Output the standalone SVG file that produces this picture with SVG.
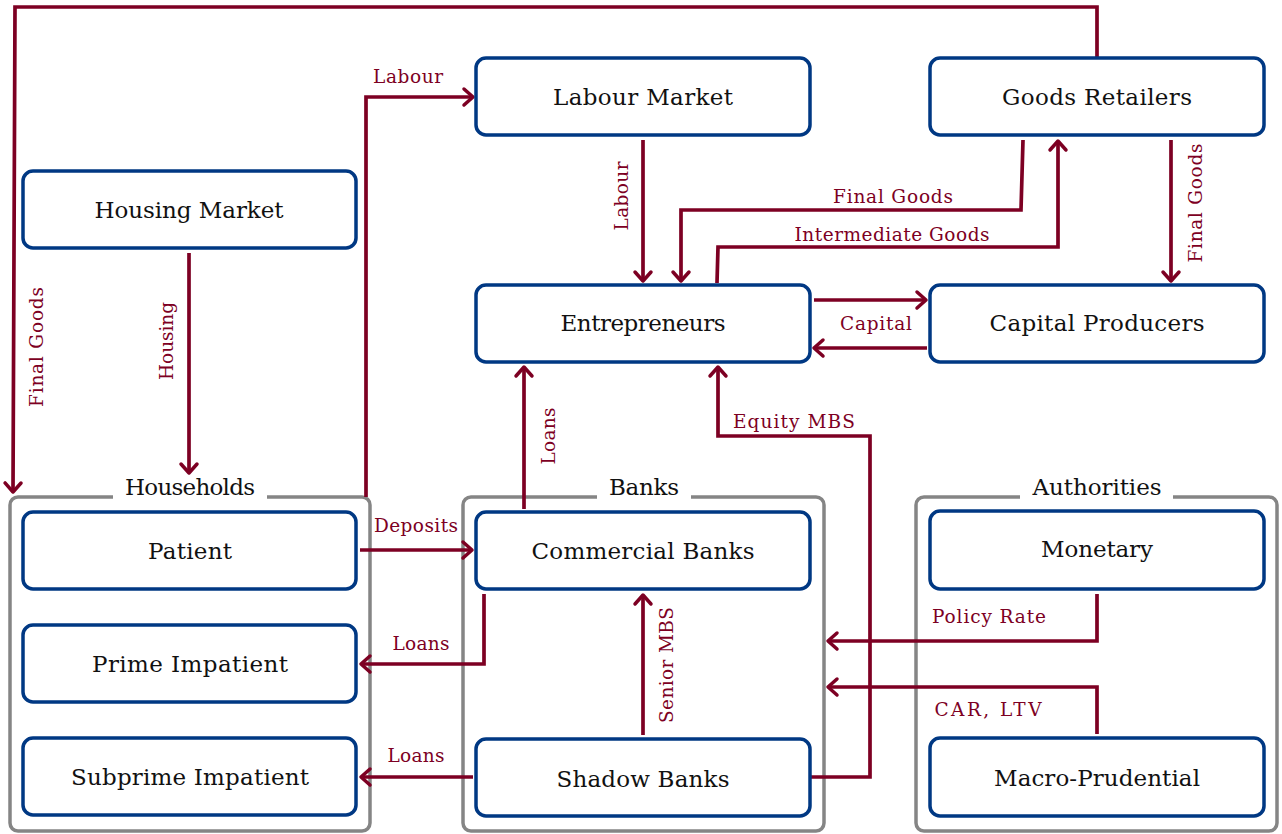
<svg xmlns="http://www.w3.org/2000/svg" width="1282" height="834" viewBox="0 0 1282 834">
<defs>
<style>
.node rect{fill:#fff;stroke:#003883;stroke-width:3.5}
.grp rect.box{fill:none;stroke:#858585;stroke-width:3.5}
.grp rect.gap{fill:#fff;stroke:none}
.nt{font-family:"DejaVu Serif",serif;font-size:23px;fill:#111;text-anchor:middle}
.el{font-family:"DejaVu Serif",serif;font-size:18.5px;fill:#7D0023;text-anchor:middle}
.conn path{fill:none;stroke:#7D0023;stroke-width:3.7;stroke-linejoin:miter;marker-end:url(#arr)}
</style>
<marker id="arr" markerUnits="userSpaceOnUse" markerWidth="30" markerHeight="30" refX="0" refY="0" orient="auto" overflow="visible">
<path d="M-9,-8 L0,0 L-9,8" fill="none" stroke="#7D0023" stroke-width="3.5" stroke-linecap="round" stroke-linejoin="round"/>
</marker>
</defs>
<rect width="1282" height="834" fill="#fff"/>

<g id="group-households" class="grp">
<rect class="box" x="10" y="497" width="360" height="334" rx="8"/>
<rect class="gap" x="113" y="490" width="154" height="14"/>
<text class="nt" x="190" y="495" textLength="130" lengthAdjust="spacing">Households</text>
</g>
<g id="group-banks" class="grp">
<rect class="box" x="463" y="497" width="361" height="334" rx="8"/>
<rect class="gap" x="597" y="490" width="94" height="14"/>
<text class="nt" x="644" y="495" textLength="70" lengthAdjust="spacing">Banks</text>
</g>
<g id="group-authorities" class="grp">
<rect class="box" x="916" y="497" width="361" height="334" rx="8"/>
<rect class="gap" x="1020" y="490" width="153" height="14"/>
<text class="nt" x="1097" y="495" textLength="129" lengthAdjust="spacing">Authorities</text>
</g>

<g id="connectors" class="conn">
<path d="M1097,58 V7 H15 L13,492"/>
<path d="M366,497 V97 H473"/>
<path d="M643,140 V281"/>
<path d="M1023,140 L1021,210 H681 V281"/>
<path d="M717,283 L718,247 H1058 V141"/>
<path d="M1171,140 V281"/>
<path d="M814,300 H926"/>
<path d="M927,348 H814"/>
<path d="M189,253 V473"/>
<path d="M524,509 V367"/>
<path d="M810,777 H870 V436 H718 V367"/>
<path d="M360,550 H472"/>
<path d="M484,594 V664 H361"/>
<path d="M473,777 H361"/>
<path d="M643,735 V595"/>
<path d="M1097,594 V641 H828"/>
<path d="M1097,734 V687 H828"/>
</g>

<g id="edge-labels">
<text class="el" x="408" y="83" textLength="70" lengthAdjust="spacing">Labour</text>
<text class="el" transform="translate(628,196) rotate(-90)" textLength="69" lengthAdjust="spacing">Labour</text>
<text class="el" x="893" y="203" textLength="120" lengthAdjust="spacing">Final Goods</text>
<text class="el" x="892" y="241" textLength="195" lengthAdjust="spacing">Intermediate Goods</text>
<text class="el" transform="translate(1202,203) rotate(-90)" textLength="119" lengthAdjust="spacing">Final Goods</text>
<text class="el" x="876" y="330" textLength="72" lengthAdjust="spacing">Capital</text>
<text class="el" transform="translate(173,341) rotate(-90)" textLength="78" lengthAdjust="spacing">Housing</text>
<text class="el" transform="translate(43,347) rotate(-90)" textLength="120" lengthAdjust="spacing">Final Goods</text>
<text class="el" transform="translate(555,436) rotate(-90)" textLength="57" lengthAdjust="spacing">Loans</text>
<text class="el" x="794" y="428" textLength="122" lengthAdjust="spacing">Equity MBS</text>
<text class="el" x="416" y="532" textLength="84" lengthAdjust="spacing">Deposits</text>
<text class="el" x="421" y="650" textLength="57" lengthAdjust="spacing">Loans</text>
<text class="el" x="416" y="762" textLength="57" lengthAdjust="spacing">Loans</text>
<text class="el" transform="translate(673,665) rotate(-90)" textLength="116" lengthAdjust="spacing">Senior MBS</text>
<text class="el" x="989" y="623" textLength="114" lengthAdjust="spacing">Policy Rate</text>
<text class="el" x="988" y="716" textLength="107" lengthAdjust="spacing">CAR, LTV</text>
</g>

<g id="labour-market" class="node"><rect x="476" y="58" width="334" height="77" rx="10"/><text class="nt" x="643" y="105" textLength="180" lengthAdjust="spacing">Labour Market</text></g>
<g id="goods-retailers" class="node"><rect x="930" y="58" width="334" height="77" rx="10"/><text class="nt" x="1097" y="105" textLength="190" lengthAdjust="spacing">Goods Retailers</text></g>
<g id="housing-market" class="node"><rect x="23" y="171" width="333" height="77" rx="10"/><text class="nt" x="189" y="218" textLength="189" lengthAdjust="spacing">Housing Market</text></g>
<g id="entrepreneurs" class="node"><rect x="476" y="285" width="334" height="77" rx="10"/><text class="nt" x="643" y="331" textLength="165" lengthAdjust="spacing">Entrepreneurs</text></g>
<g id="capital-producers" class="node"><rect x="930" y="285" width="334" height="77" rx="10"/><text class="nt" x="1097" y="331" textLength="215" lengthAdjust="spacing">Capital Producers</text></g>
<g id="patient" class="node"><rect x="23" y="512" width="333" height="77" rx="10"/><text class="nt" x="190" y="559" textLength="84" lengthAdjust="spacing">Patient</text></g>
<g id="prime-impatient" class="node"><rect x="23" y="625" width="333" height="77" rx="10"/><text class="nt" x="190" y="672" textLength="196" lengthAdjust="spacing">Prime Impatient</text></g>
<g id="subprime-impatient" class="node"><rect x="23" y="738" width="333" height="77" rx="10"/><text class="nt" x="190" y="785" textLength="238" lengthAdjust="spacing">Subprime Impatient</text></g>
<g id="commercial-banks" class="node"><rect x="476" y="512" width="334" height="77" rx="10"/><text class="nt" x="643" y="559" textLength="223" lengthAdjust="spacing">Commercial Banks</text></g>
<g id="shadow-banks" class="node"><rect x="476" y="739" width="334" height="77" rx="10"/><text class="nt" x="643" y="787" textLength="173" lengthAdjust="spacing">Shadow Banks</text></g>
<g id="monetary" class="node"><rect x="930" y="511" width="334" height="78" rx="10"/><text class="nt" x="1097" y="557" textLength="112" lengthAdjust="spacing">Monetary</text></g>
<g id="macro-prudential" class="node"><rect x="930" y="738" width="334" height="78" rx="10"/><text class="nt" x="1097" y="786" textLength="206" lengthAdjust="spacing">Macro-Prudential</text></g>
</svg>
